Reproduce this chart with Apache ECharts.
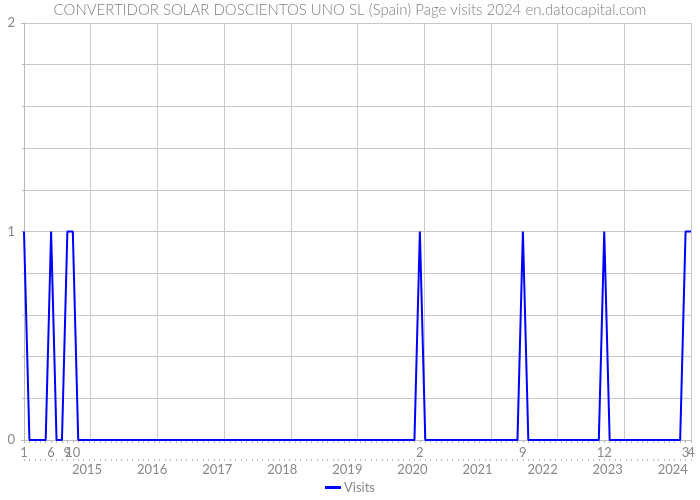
<!DOCTYPE html>
<html><head><meta charset="utf-8">
<script src="https://cdn.jsdelivr.net/npm/echarts@6/dist/echarts.min.js"></script>
<style>html,body{margin:0;padding:0;background:#fff}#c{width:700px;height:500px}</style>
</head><body><div id="c"></div>
<script>
const chartTitle = 'CONVERTIDOR SOLAR DOSCIENTOS UNO SL (Spain) Page visits 2024 en.datocapital.com';
const seriesName = 'Visits';
// Monthly visits, Jan 2014 .. Apr 2024
const v2014 = [1,0,0,0,0,1,0,0,1,1,0,0];
const v2015 = [0,0,0,0,0,0,0,0,0,0,0,0];
const v2016 = [0,0,0,0,0,0,0,0,0,0,0,0];
const v2017 = [0,0,0,0,0,0,0,0,0,0,0,0];
const v2018 = [0,0,0,0,0,0,0,0,0,0,0,0];
const v2019 = [0,0,0,0,0,0,0,0,0,0,0,0];
const v2020 = [0,1,0,0,0,0,0,0,0,0,0,0];
const v2021 = [0,0,0,0,0,0,0,0,1,0,0,0];
const v2022 = [0,0,0,0,0,0,0,0,0,0,0,1];
const v2023 = [0,0,0,0,0,0,0,0,0,0,0,0];
const v2024 = [0,0,1,1];
const years = [2014,2015,2016,2017,2018,2019,2020,2021,2022,2023,2024];
const yearLabels = ['2015','2016','2017','2018','2019','2020','2021','2022','2023','2024'];
const yTickLabels = ['0','1','2'];

const perYear = [v2014,v2015,v2016,v2017,v2018,v2019,v2020,v2021,v2022,v2023,v2024];
const categories = [];
const values = [];
perYear.forEach((arr, yi) => {
  arr.forEach((val, mi) => {
    categories.push(years[yi] + '-' + String(mi + 1).padStart(2, '0'));
    values.push(val);
  });
});
const lastIdx = categories.length - 1;

const FONT = 'Lato';
const GRID = '#c8c8c8';
const TXT = '#888';

const chart = echarts.init(document.getElementById('c'), null, {renderer: 'canvas'});
chart.setOption({
  animation: false,
  title: {
    text: chartTitle, left: 'center', top: -2,
    textStyle: {fontFamily: FONT, fontSize: 15, fontWeight: 300, color: '#808080'}
  },
  legend: {
    bottom: 1, left: 'center', icon: 'rect', itemWidth: 16, itemHeight: 3, itemGap: 4,
    textStyle: {fontFamily: FONT, fontSize: 13, color: TXT, padding: [0, 0, 0, -2]},
    data: [seriesName]
  },
  grid: {left: 24, right: 9, top: 23, bottom: 60, containLabel: false},
  xAxis: [
    {
      type: 'value', min: 0, max: lastIdx, interval: lastIdx / 10,
      splitLine: {show: true, lineStyle: {color: GRID, width: 1}},
      axisLine: {show: false}, axisTick: {show: false}, axisLabel: {show: false}
    },
    {
      type: 'category', data: categories, boundaryGap: false, position: 'bottom',
      axisLine: {show: true, lineStyle: {color: '#bbb'}},
      axisTick: {show: true, interval: 0, length: 3, lineStyle: {color: '#bbb'}},
      axisLabel: {
        interval: 0, margin: 6, color: TXT, fontFamily: FONT, fontSize: 13,
        formatter: (v, i) => values[i] > 0 ? String(Number(v.slice(5))) : ''
      },
      splitLine: {show: false}
    },
    {
      type: 'category', data: categories, boundaryGap: false, position: 'bottom', offset: 19,
      axisLine: {show: false},
      axisTick: {show: true, interval: 0, length: 2, lineStyle: {color: '#bbb'}},
      axisLabel: {
        interval: 0, margin: 4, color: TXT, fontFamily: FONT, fontSize: 13,
        padding: [0, 4, 0, 0],
        formatter: (v) => (v.endsWith('-01') && yearLabels.includes(v.slice(0, 4))) ? v.slice(0, 4) : ''
      },
      splitLine: {show: false}
    }
  ],
  yAxis: {
    type: 'value', min: 0, max: 2, interval: 1,
    axisLine: {show: true, lineStyle: {color: '#bbb'}},
    axisTick: {show: true, length: 3, lineStyle: {color: '#bbb'}},
    minorTick: {show: true, splitNumber: 5, length: 2, lineStyle: {color: '#bbb'}},
    splitLine: {show: true, lineStyle: {color: GRID}},
    minorSplitLine: {show: true, lineStyle: {color: GRID}},
    axisLabel: {
      color: TXT, fontFamily: FONT, fontSize: 13, margin: 9,
      formatter: (v) => yTickLabels[v] !== undefined ? yTickLabels[v] : ''
    }
  },
  series: [{
    name: seriesName, type: 'line', xAxisIndex: 1, data: values,
    showSymbol: false, symbol: 'none',
    lineStyle: {color: '#0000ff', width: 2}, itemStyle: {color: '#0000ff'}
  }]
});
</script></body></html>
